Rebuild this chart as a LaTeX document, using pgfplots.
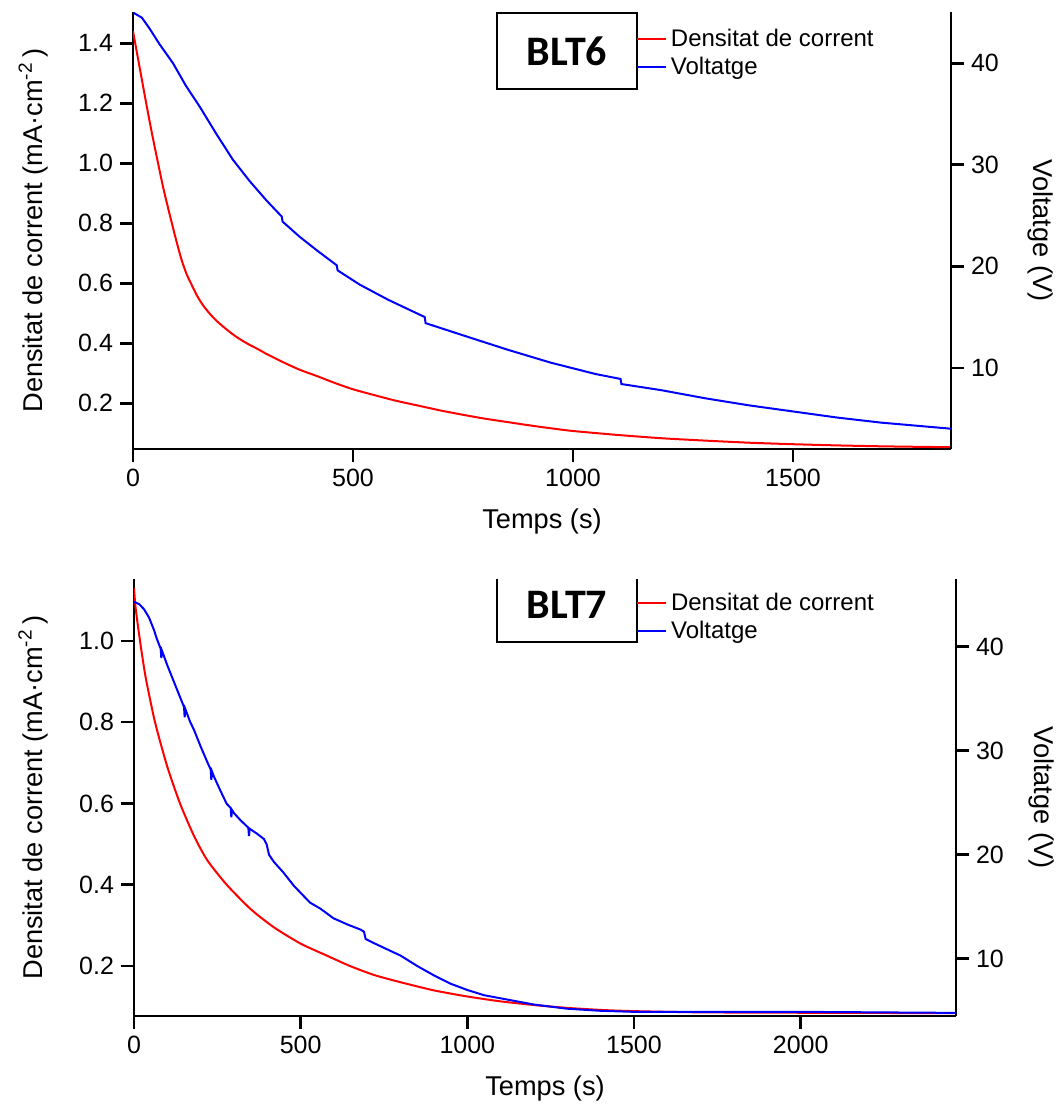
\documentclass[border=0pt]{standalone}
\usepackage{fontspec}
\setmainfont{Liberation Sans}
\newfontfamily\carlito{Carlito}
\usepackage{pgfplots}
\pgfplotsset{compat=1.18}
\pgfplotsset{
  base/.style={
    scale only axis,
    axis line style={line width=1.3pt,-},
    every tick/.style={line width=1.3pt, black},
    major tick length=6.5pt,
    tick align=outside,
    tick label style={font=\fontsize{12.5}{14}\selectfont},
    label style={font=\fontsize{13.6}{15}\selectfont},
    /pgf/number format/assume math mode=true,
    /pgf/number format/1000 sep={},
    legend image code/.code={\draw[#1] (0pt,0pt) -- (10.5pt,0pt); \path (0pt,0pt) -- (14.5pt,0pt);},
    legend cell align=left,
  },
  leg/.style={draw=none, fill=none, font=\fontsize{12}{14}\selectfont, row sep=0pt, anchor=west},
}
\begin{document}
\begin{tikzpicture}
\useasboundingbox (0pt,0pt) rectangle (530.5pt,-552.5pt);
% ---------------- Top panel (BLT6) ----------------
\begin{axis}[base, at={(66.5pt,-6pt)}, anchor=north west,
  width=409pt, height=218.5pt,
  xmin=0, xmax=1859, ymin=0.048, ymax=1.504,
  axis x line*=bottom, axis y line*=left,
  xtick={0,500,1000,1500}, ytick={0.2,0.4,0.6,0.8,1.0,1.2,1.4},
  yticklabel style={/pgf/number format/.cd, fixed, fixed zerofill, precision=1},
  xlabel={Temps (s)}, ylabel={Densitat de corrent (mA·cm\textsuperscript{-2}\,)},
  xlabel style={at={(axis description cs:0.5,-0.165)}, anchor=center},
  ylabel style={at={(axis description cs:-0.122,0.5)}, anchor=center},
]
\addplot[red, line width=1pt, smooth, tension=0.4] coordinates {
(0,1.44)(10,1.36)(20,1.28)(30,1.20)(43,1.10)(57,1.00)(70,0.91)(85,0.82)(97,0.75)(110,0.68)(122,0.63)(135,0.59)(147,0.555)(160,0.525)(175,0.498)(190,0.475)(208,0.452)(227,0.43)(245,0.412)(265,0.395)(285,0.38)(303,0.365)(340,0.338)(379,0.312)(420,0.29)(455,0.27)(500,0.247)(560,0.223)(600,0.208)(650,0.192)(700,0.176)(750,0.162)(800,0.149)(850,0.138)(900,0.127)(950,0.117)(1000,0.108)(1100,0.095)(1200,0.084)(1300,0.076)(1400,0.069)(1500,0.064)(1600,0.060)(1700,0.057)(1800,0.055)(1859,0.054)
};
\end{axis}
\begin{axis}[base, at={(66.5pt,-6pt)}, anchor=north west,
  width=409pt, height=218.5pt,
  xmin=0, xmax=1859, ymin=2.0, ymax=45.05,
  axis x line=none, axis y line*=right,
  ytick={10,20,30,40},
  ylabel={Voltatge (V)},
  ylabel style={at={(axis description cs:1.109,0.5)}, anchor=center, rotate=180},
  legend style={leg, at={(axis description cs:0.607,0.906)}},
]
\addlegendimage{red, line width=1pt}
\addlegendentry{Densitat de corrent}
\addplot[blue, line width=1pt] coordinates {
(0,45.0)(20,44.5)(38,43.4)(60,41.9)(91,40.0)(120,37.8)(152,35.7)(190,33.0)(227,30.5)(265,28.4)(303,26.5)(338,24.9)(340,24.4)(379,22.9)(420,21.5)(463,20.1)(465,19.6)(515,18.2)(580,16.7)(663,15.0)(665,14.4)(750,13.2)(850,11.8)(950,10.5)(1050,9.4)(1108,8.9)(1110,8.4)(1200,7.8)(1300,7.0)(1400,6.3)(1500,5.7)(1600,5.1)(1700,4.6)(1859,4.0)
};
\addlegendentry{Voltatge}
\node[draw, line width=1pt, minimum width=70pt, minimum height=38pt, inner sep=0pt,
  font=\carlito\bfseries\fontsize{21}{24}\selectfont] at (axis description cs:0.5306,0.911) {BLT6};
\end{axis}
% ---------------- Bottom panel (BLT7) ----------------
\begin{axis}[base, at={(67pt,-289.5pt)}, anchor=north west,
  width=411pt, height=218.5pt,
  xmin=0, xmax=2466, ymin=0.077, ymax=1.152,
  axis x line*=bottom, axis y line*=left,
  xtick={0,500,1000,1500,2000}, ytick={0.2,0.4,0.6,0.8,1.0},
  yticklabel style={/pgf/number format/.cd, fixed, fixed zerofill, precision=1},
  xlabel={Temps (s)}, ylabel={Densitat de corrent (mA·cm\textsuperscript{-2}\,)},
  xlabel style={at={(axis description cs:0.5,-0.165)}, anchor=center},
  ylabel style={at={(axis description cs:-0.1229,0.5)}, anchor=center},
]
\addplot[red, line width=1pt, smooth, tension=0.4] coordinates {
(0,1.13)(5,1.08)(18,1.00)(35,0.91)(63,0.80)(100,0.69)(138,0.60)(180,0.52)(220,0.46)(278,0.40)(350,0.34)(420,0.295)(500,0.255)(580,0.225)(648,0.20)(720,0.178)(800,0.16)(900,0.14)(1000,0.125)(1100,0.113)(1200,0.104)(1300,0.097)(1400,0.092)(1500,0.089)(1700,0.086)(2000,0.085)(2466,0.084)
};
\end{axis}
\begin{axis}[base, at={(67pt,-289.5pt)}, anchor=north west,
  width=411pt, height=218.5pt,
  xmin=0, xmax=2466, ymin=4.5, ymax=46.5,
  axis x line=none, axis y line*=right,
  ytick={10,20,30,40},
  ylabel={Voltatge (V)},
  ylabel style={at={(axis description cs:1.1046,0.5)}, anchor=center, rotate=180},
  legend style={leg, at={(axis description cs:0.603,0.913)}},
]
\addlegendimage{red, line width=1pt}
\addlegendentry{Densitat de corrent}
\addplot[blue, line width=1pt] coordinates {
(0,44.3)(15,44.1)(30,43.6)(45,42.8)(60,41.6)(68,40.8)(80,39.8)(82,38.9)(84,39.6)(100,38.2)(120,36.6)(140,35.0)(150,34.2)(152,33.2)(154,34.0)(168,32.8)(180,32.0)(200,30.4)(220,28.9)(230,28.2)(232,27.2)(234,28.0)(240,27.5)(260,26.1)(278,24.9)(290,24.5)(292,23.6)(294,24.3)(300,24.0)(320,23.3)(343,22.6)(345,21.8)(347,22.5)(370,22.0)(390,21.5)(398,21.0)(405,20.0)(420,19.3)(448,18.3)(480,17.0)(528,15.4)(560,14.8)(598,13.9)(640,13.3)(680,12.8)(690,12.6)(695,11.9)(720,11.5)(760,10.9)(800,10.3)(850,9.3)(900,8.4)(950,7.6)(1000,7.0)(1050,6.5)(1100,6.2)(1150,5.9)(1200,5.6)(1300,5.2)(1400,5.0)(1500,4.9)(1700,4.9)(2000,4.9)(2466,4.8)
};
\addlegendentry{Voltatge}
\node[draw, line width=1pt, minimum width=70pt, minimum height=37.5pt, inner sep=0pt,
  font=\carlito\bfseries\fontsize{21}{24}\selectfont] at (axis description cs:0.5268,0.9417) {BLT7};
\end{axis}
\end{tikzpicture}
\end{document}
